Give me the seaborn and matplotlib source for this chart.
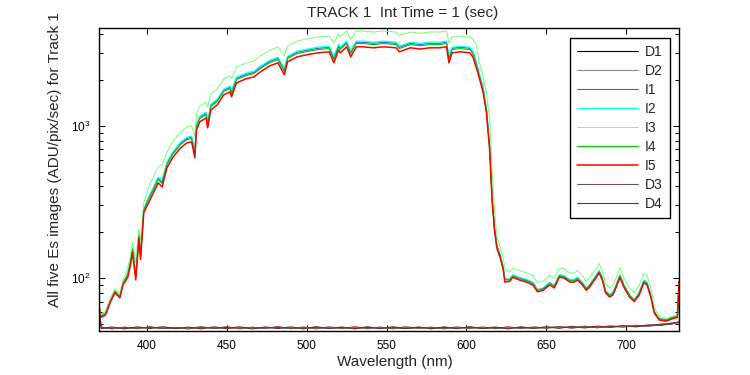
import matplotlib
matplotlib.use("Agg")
import matplotlib.pyplot as plt
import seaborn as sns
from matplotlib.ticker import LogFormatterMathtext, LogLocator

# wavelength grid (nm) for the illuminated images
wl = [370, 371, 374, 377, 380, 383, 385, 388, 390, 391, 393, 395, 396, 398,
      401, 404, 407, 409.5, 412.5, 416, 421, 425, 428, 430, 431, 433, 437, 438, 440, 444, 448, 452, 453, 456,
      462, 467, 471, 477, 482, 486, 488, 494, 500, 507, 514, 517, 520, 521, 525, 527.5, 531, 535, 542, 548,
      556, 558, 565, 571, 577, 583, 587.5, 589, 591, 596, 602, 604, 606,
      608, 610.5, 612.5, 614.5, 616, 617.5, 619, 621, 623, 624,
      627, 629, 633, 637.5, 641.5, 644.5, 648, 652, 655, 658, 661, 664.5, 667.5, 669.5, 672.5, 675, 677, 681, 683, 685,
      687, 689.5, 691.5, 693.5, 696, 698.5, 702, 705, 708, 711, 713, 715.5,
      717.5, 720.5, 725, 729, 732, 733]

i1 = [67, 56, 58, 70, 82, 75, 92, 106, 132, 155, 102, 192, 139, 281,
      334, 387, 452, 425, 566, 659, 767, 827, 840, 659, 1007, 1136, 1208, 1038, 1363, 1471, 1711, 1790, 1661, 2052,
      2181, 2248, 2425, 2657, 2778, 2318, 2821, 3042, 3136, 3234, 3284, 2782, 3383, 3234, 3542, 3042, 3542, 3542, 3488, 3542,
      3488, 3284, 3488, 3424, 3488, 3488, 3542, 2778, 3234, 3284, 3234, 3042, 2615,
      2152, 1714, 1267, 723, 339, 215, 163, 142, 118, 98,
      98, 104, 100, 97, 93, 83, 85, 93, 89, 104, 103, 97, 97, 100, 93, 85, 90, 103, 111, 100,
      82, 77, 79, 89, 104, 90, 77, 72, 79, 96, 93, 76,
      60, 54, 53, 55, 56, 93]

i2 = [68, 57, 59, 71, 82, 76, 93, 107, 134, 157, 106, 194, 142, 284,
      340, 395, 460, 445, 577, 671, 781, 843, 856, 690, 1026, 1158, 1231, 1080, 1389, 1499, 1743, 1824, 1720, 2091,
      2221, 2290, 2470, 2706, 2830, 2400, 2873, 3099, 3195, 3294, 3345, 2870, 3447, 3294, 3608, 3130, 3608, 3608, 3553, 3608,
      3553, 3345, 3553, 3488, 3553, 3553, 3608, 2900, 3294, 3345, 3294, 3099, 2664,
      2250, 1800, 1330, 760, 350, 220, 165, 144, 118, 98,
      99, 105, 101, 98, 94, 84, 86, 94, 89, 105, 104, 98, 98, 101, 94, 86, 90, 104, 112, 101,
      83, 78, 80, 89, 105, 90, 78, 72, 80, 97, 94, 77,
      60, 54, 53, 55, 56, 90]

i3 = [70, 58, 60, 73, 85, 78, 95, 117, 146, 172, 126, 212, 172, 311,
      396, 460, 536, 556, 672, 782, 909, 982, 997, 850, 1195, 1349, 1434, 1330, 1618, 1746, 2031, 2125, 2050, 2436,
      2588, 2668, 2878, 3153, 3297, 2900, 3348, 3611, 3722, 3838, 3898, 3500, 4016, 3838, 4204, 3700, 4204, 4204, 4140, 4204,
      4140, 3950, 4140, 4064, 4140, 4140, 4204, 3500, 3838, 3898, 3838, 3700, 3450,
      2600, 2100, 1650, 1100, 520, 280, 190, 160, 135, 115,
      109, 116, 112, 108, 104, 93, 95, 104, 99, 116, 115, 108, 108, 112, 104, 95, 100, 115, 124, 112,
      92, 86, 89, 99, 116, 100, 86, 80, 89, 107, 104, 85,
      64, 56, 54, 56, 57, 60]

i4 = [67, 56, 58, 70, 82, 75, 92, 105, 131, 154, 101, 190, 137, 279,
      328, 380, 443, 417, 555, 647, 752, 812, 824, 647, 988, 1115, 1185, 1019, 1338, 1444, 1679, 1757, 1630, 2014,
      2140, 2206, 2379, 2607, 2726, 2274, 2768, 2985, 3078, 3173, 3222, 2730, 3320, 3173, 3476, 2985, 3476, 3476, 3423, 3476,
      3423, 3222, 3423, 3360, 3423, 3423, 3476, 2726, 3173, 3222, 3173, 2985, 2566,
      2131, 1697, 1255, 716, 336, 213, 162, 141, 116, 97,
      97, 103, 99, 96, 92, 83, 85, 92, 88, 103, 102, 96, 96, 99, 92, 85, 89, 102, 110, 99,
      82, 77, 79, 88, 103, 89, 77, 71, 79, 95, 92, 75,
      60, 54, 53, 55, 56, 92]

i5 = [66, 55, 57, 69, 80, 74, 90, 101, 126, 148, 97, 183, 132, 268,
      312, 362, 422, 397, 529, 616, 716, 773, 785, 616, 941, 1062, 1129, 970, 1274, 1375, 1599, 1673, 1552, 1918,
      2038, 2101, 2266, 2483, 2596, 2166, 2636, 2843, 2931, 3022, 3069, 2600, 3162, 3022, 3310, 2843, 3310, 3310, 3260, 3310,
      3260, 3069, 3260, 3200, 3260, 3260, 3310, 2596, 3022, 3069, 3022, 2843, 2444,
      2069, 1648, 1218, 695, 326, 207, 157, 137, 113, 94,
      95, 101, 97, 94, 90, 81, 83, 90, 86, 101, 100, 94, 94, 97, 90, 83, 87, 100, 108, 97,
      80, 75, 77, 86, 101, 87, 75, 70, 77, 93, 90, 74,
      59, 53, 52, 54, 55, 95]

# dark images on their own coarser grid
dwl = [370, 371.5, 378, 386, 394, 402, 410, 418, 426, 434, 442, 450, 458, 466, 474, 482,
       490, 498, 506, 514, 522, 530, 538, 546, 554, 562, 570, 578, 586, 594, 602, 610,
       618, 626, 634, 642, 650, 658, 666, 674, 682, 690, 698, 706, 714, 722, 728, 733]

d1 = [60, 47.0, 46.5, 47.2, 46.8, 47.4, 46.6, 47.1, 46.9, 47.5, 46.7, 47.2, 46.8, 47.3, 46.9, 47.4,
      46.6, 47.0, 47.3, 46.8, 47.2, 46.7, 47.4, 46.9, 47.1, 46.6, 47.3, 46.8, 47.2, 46.9, 47.4, 46.7,
      47.1, 46.8, 47.3, 46.9, 47.2, 47.5, 47.1, 47.6, 47.3, 47.8, 48.2, 48.0, 48.6, 49.3, 50.1, 51.0]
d2 = [59, 46.8, 47.3, 46.6, 47.1, 46.9, 47.4, 46.7, 47.2, 46.8, 47.3, 46.6, 47.1, 46.9, 47.4, 46.8,
      47.2, 46.7, 46.9, 47.3, 46.8, 47.2, 46.7, 47.3, 46.9, 47.2, 46.8, 47.4, 46.7, 47.1, 46.8, 47.3,
      46.9, 47.2, 46.8, 47.4, 47.0, 47.3, 47.6, 47.2, 47.7, 47.5, 48.0, 48.4, 48.3, 49.0, 49.8, 50.6]
d3 = [61, 47.6, 46.3, 47.5, 46.4, 47.8, 46.5, 47.3, 46.2, 47.7, 46.6, 47.8, 46.3, 47.4, 46.5, 47.9,
      46.4, 47.6, 46.3, 47.7, 46.5, 47.8, 46.4, 47.5, 46.3, 47.8, 46.6, 47.4, 46.3, 47.7, 46.5, 47.6,
      46.4, 47.8, 46.5, 47.6, 46.7, 47.9, 46.8, 48.2, 47.0, 48.5, 47.4, 48.8, 48.2, 49.9, 49.6, 51.6]
d4 = [60, 46.4, 47.6, 46.3, 47.7, 46.5, 47.8, 46.4, 47.5, 46.3, 47.7, 46.4, 47.8, 46.2, 47.6, 46.5,
      47.7, 46.3, 47.8, 46.5, 47.6, 46.3, 47.7, 46.4, 47.8, 46.5, 47.6, 46.3, 47.7, 46.4, 47.8, 46.5,
      47.6, 46.3, 47.7, 46.6, 47.8, 46.6, 48.1, 46.9, 48.3, 47.3, 48.6, 47.7, 49.2, 48.8, 50.5, 51.2]

series = [
    ("D1", dwl, d1, "#000000"),
    ("D2", dwl, d2, "#8c8c8c"),
    ("I1", wl, i1, "#1f6fd6"),
    ("I2", wl, i2, "#00ffff"),
    ("I3", wl, i3, "#80ff80"),
    ("I4", wl, i4, "#00c800"),
    ("I5", wl, i5, "#ff0000"),
    ("D3", dwl, d3, "#7a5050"),
    ("D4", dwl, d4, "#7f2a2a"),
]

sns.set_style("ticks")
plt.rcParams["font.family"] = ["Liberation Sans", "DejaVu Sans"]
plt.rcParams["mathtext.default"] = "regular"
plt.rcParams.update({
    "xtick.direction": "in", "ytick.direction": "in",
    "xtick.top": True, "ytick.right": True,
    "xtick.major.size": 4.3, "ytick.major.size": 4.3,
    "ytick.minor.size": 3.0, "xtick.major.width": 0.75,
    "ytick.major.width": 0.75, "ytick.minor.width": 0.75,
    "axes.linewidth": 1.0, "axes.edgecolor": "black",
})

fig = plt.figure(figsize=(7.5, 3.75), dpi=100)
ax = fig.add_axes([99 / 750, 44 / 375, 580 / 750, 303 / 375])

for name, x, y, c in series:
    sns.lineplot(x=x, y=y, ax=ax, color=c, lw=1.1 if name == "I5" else 0.8, label=name)

ax.set_yscale("log")
ax.set_xlim(370, 733)
ax.set_ylim(44.8, 4400)
ax.set_xticks([400, 450, 500, 550, 600, 650, 700])
ax.yaxis.set_major_locator(LogLocator(base=10))
ax.yaxis.set_major_formatter(LogFormatterMathtext())
ax.yaxis.set_minor_locator(LogLocator(base=10, subs=range(2, 10)))
ax.tick_params(axis="x", labelsize=8.5, pad=6.5, colors="black")
ax.tick_params(axis="y", which="both", labelsize=8.5, pad=6, colors="black")

ax.set_title("TRACK 1  Int Time = 1 (sec)", fontsize=11, x=0.524, pad=8)
ax.set_xlabel("Wavelength (nm)", fontsize=11)
ax.xaxis.set_label_coords(0.51, -0.079)
ax.set_ylabel("")
fig.text(55 / 750, 68 / 375, "All five Es images (ADU/pix/sec) for Track 1",
         rotation=90, ha="center", va="bottom", fontsize=11)

handles, labels = ax.get_legend_handles_labels()
leg = ax.legend(handles, labels, loc="upper right", bbox_to_anchor=(0.984, 0.967),
                borderaxespad=0, fontsize=10, handlelength=4.4, handletextpad=0.5,
                labelspacing=0.36, borderpad=0.5, fancybox=False, framealpha=1,
                edgecolor="black")
leg.get_frame().set_linewidth(1.0)

fig.savefig("out.png", dpi=100)
